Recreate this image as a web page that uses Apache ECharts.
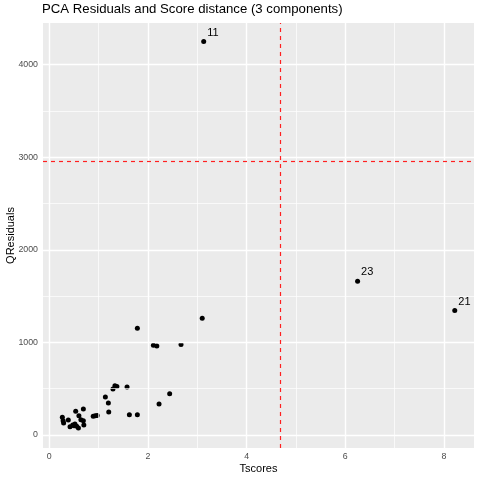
<!DOCTYPE html>
<html>
<head>
    <meta charset="utf-8"/>
    <script src="https://cdn.jsdelivr.net/npm/echarts@6/dist/echarts.min.js"></script>
    <style>
        html, body { margin: 0; padding: 0; background: #fff; }
    </style>
</head>
<body>
<div id="main" style="width: 480px;height:480px;"></div>
<script type="text/javascript">
    // 数据：每个样本的 T 分数和 Q 残差
    var tscores = [3.13, 6.25, 8.22, 3.10, 1.785, 2.11, 2.18, 2.67,
        1.33, 1.37, 1.29, 1.576, 1.136, 1.197, 1.205, 1.623, 1.785, 2.44, 2.225,
        0.89, 0.93, 0.97, 0.535, 0.69, 0.60, 0.64, 0.69, 0.70,
        0.264, 0.28, 0.29, 0.385, 0.42, 0.475, 0.52, 0.555, 0.59, 0.50];
    var qresiduals = [4249, 1662, 1345, 1260, 1152, 971, 961, 979,
        532, 525, 496, 518, 410, 345, 248, 219, 219, 446, 335,
        202, 208, 212, 256, 281, 208, 165, 154, 108,
        191, 154, 130, 162, 90, 108, 119, 94, 76, 100];
    var pointLabels = ['11', '23', '21'];   // 只有前三个点有标签

    // 阈值线
    var tLimit = 4.69;
    var qLimit = 2955;

    // 刻度
    var xMajor = [0, 2, 4, 6, 8];
    var xMinor = [1, 3, 5, 7];
    var yMajor = [0, 1000, 2000, 3000, 4000];
    var yMinor = [500, 1500, 2500, 3500];

    var font = "'Liberation Sans', Arial, sans-serif";

    var points = [];
    for (var i = 0; i < tscores.length; i++) {
        points.push({value: [tscores[i], qresiduals[i]], name: pointLabels[i] || ''});
    }

    function vLines(axis, vals, style) {
        return vals.map(function (v) {
            var d = {lineStyle: style};
            d[axis] = v;
            return d;
        });
    }
    var minorStyle = {color: '#ffffff', width: 0.7, type: 'solid', opacity: 1};
    var majorStyle = {color: '#ffffff', width: 1.4, type: 'solid', opacity: 1};
    var limitStyle = {color: '#FF2020', width: 1.2, type: [4, 4], opacity: 1};

    var myChart = echarts.init(document.getElementById('main'));

    option = {
        animation: false,
        title: {
            text: 'PCA Residuals and Score distance (3 components)',
            left: 42,
            top: 3,
            padding: 0,
            textStyle: {fontFamily: font, fontSize: 13.2, fontWeight: 'normal', color: '#000'}
        },
        grid: {
            left: 43, right: 6, top: 23, bottom: 32,
            outerBoundsMode: 'none',
            containLabel: false,
            show: true, backgroundColor: '#EBEBEB', borderWidth: 0
        },
        xAxis: {
            type: 'value',
            min: -0.128, max: 8.61,
            name: 'Tscores', nameLocation: 'middle', nameGap: 15, nameMoveOverlap: false,
            nameTextStyle: {fontFamily: font, fontSize: 11, color: '#000'},
            axisLine: {show: false},
            axisTick: {show: true, length: 3, customValues: xMajor, lineStyle: {color: '#333333', width: 1}},
            axisLabel: {
                customValues: xMajor, margin: 4, fontFamily: font, fontSize: 8.8, color: '#4D4D4D',
                formatter: function (v) { return String(v); }
            },
            splitLine: {show: false}
        },
        yAxis: {
            type: 'value',
            min: -140, max: 4450,
            name: 'QResiduals', nameLocation: 'middle', nameGap: 27, nameMoveOverlap: false,
            nameTextStyle: {fontFamily: font, fontSize: 11, color: '#000'},
            axisLine: {show: false},
            axisTick: {show: true, length: 3, customValues: yMajor, lineStyle: {color: '#333333', width: 1}},
            axisLabel: {
                customValues: yMajor, margin: 5, fontFamily: font, fontSize: 8.8, color: '#4D4D4D',
                formatter: function (v) { return String(v); }
            },
            splitLine: {show: false}
        },
        series: [
            {
                // 网格线
                type: 'line', data: [], z: 1, silent: true,
                markLine: {
                    silent: true, symbol: 'none', label: {show: false},
                    emphasis: {disabled: true},
                    data: vLines('xAxis', xMinor, minorStyle).concat(vLines('yAxis', yMinor, minorStyle))
                        .concat(vLines('xAxis', xMajor, majorStyle)).concat(vLines('yAxis', yMajor, majorStyle))
                }
            },
            {
                // 阈值虚线
                type: 'line', data: [], z: 2, silent: true,
                markLine: {
                    silent: true, symbol: 'none', label: {show: false},
                    emphasis: {disabled: true},
                    data: vLines('xAxis', [tLimit], limitStyle).concat(vLines('yAxis', [qLimit], limitStyle))
                }
            },
            {
                type: 'scatter', z: 3,
                symbolSize: 5,
                itemStyle: {color: '#000', opacity: 1},
                label: {
                    show: true, position: 'right', distance: 1, offset: [0, -9],
                    formatter: function (p) { return p.name; },
                    fontFamily: font, fontSize: 11, color: '#000'
                },
                data: points
            }
        ]
    };

    myChart.setOption(option);
</script>
</body>
</html>
